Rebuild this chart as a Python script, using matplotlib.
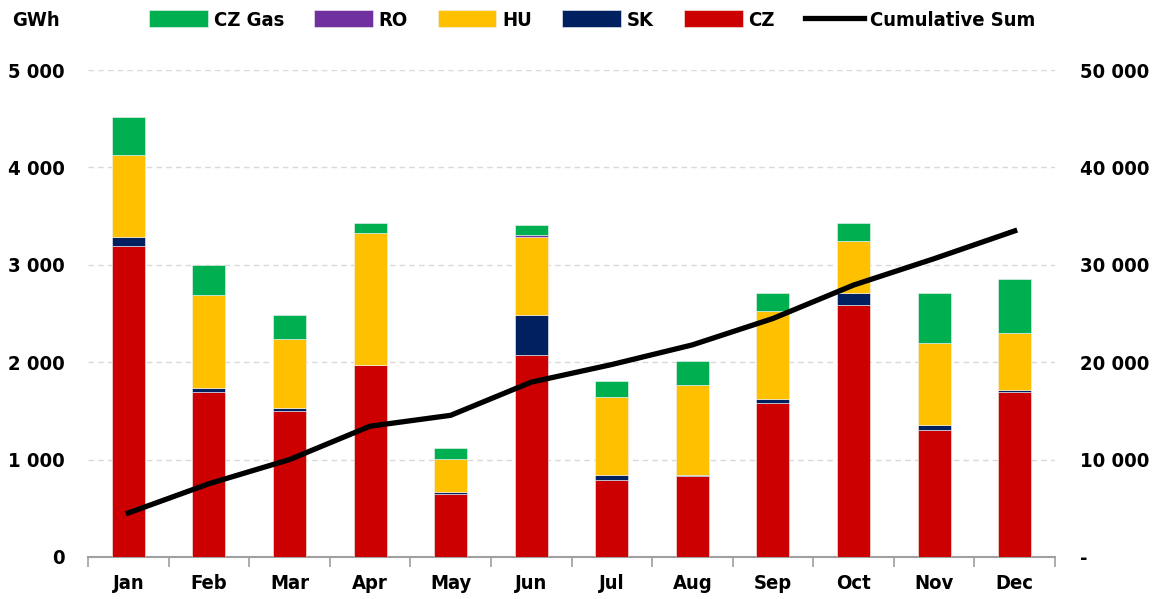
import numpy as np
import matplotlib
matplotlib.use("Agg")
import matplotlib.pyplot as plt
from matplotlib.ticker import FuncFormatter, MultipleLocator

# monthly flows, GWh
MONTHS = ["Jan", "Feb", "Mar", "Apr", "May", "Jun",
          "Jul", "Aug", "Sep", "Oct", "Nov", "Dec"]
CZ     = [3190, 1690, 1500, 1970, 650, 2077, 786, 827, 1585, 2590, 1300, 1690]
SK     = [100, 40, 25, 0, 15, 410, 60, 20, 40, 125, 60, 20]
HU     = [840, 965, 710, 1360, 340, 800, 796, 920, 900, 530, 840, 590]
RO     = [0, 0, 0, 0, 0, 20, 0, 0, 0, 0, 0, 0]
CZ_GAS = [390, 305, 245, 100, 110, 100, 167, 250, 185, 185, 510, 555]

COLORS = {"CZ": "#CC0000", "SK": "#002060", "HU": "#FFC000",
          "RO": "#7030A0", "CZ Gas": "#00B050"}

plt.rcParams["font.family"] = ["DejaVu Sans"]
plt.rcParams["font.stretch"] = "condensed"
plt.rcParams["font.weight"] = "bold"
FS = 14.5

x = np.arange(len(MONTHS))
series = [("CZ", CZ), ("SK", SK), ("HU", HU), ("RO", RO), ("CZ Gas", CZ_GAS)]
total = np.sum([np.array(v) for _, v in series], axis=0)
cum = np.cumsum(total)

fig = plt.figure(figsize=(11.53, 5.99), dpi=100)
ax = fig.add_axes([88 / 1153, 1 - 557 / 599, (1055 - 88) / 1153, (557 - 70) / 599])
ax2 = ax.twinx()

bottom = np.zeros(len(MONTHS))
handles = {}
for name, vals in series:
    b = ax.bar(x, vals, 0.41, bottom=bottom, color=COLORS[name],
               edgecolor="#F4F4F4", linewidth=0.4, zorder=3)
    handles[name] = b
    bottom += np.array(vals)

ln, = ax2.plot(x, cum, color="black", lw=3.8, zorder=4)
ax.set_zorder(1)
ax2.set_zorder(2)
ax2.patch.set_visible(False)

ax.set_xlim(-0.5, len(MONTHS) - 0.5)
ax.set_ylim(0, 5000)
ax2.set_ylim(0, 50000)
ax.yaxis.set_major_locator(MultipleLocator(1000))
ax2.yaxis.set_major_locator(MultipleLocator(10000))

def thou(v, _):
    return f"{int(v):,}".replace(",", " ")

def thou_r(v, _):
    return "-" if v == 0 else f"{int(v):,}".replace(",", " ")

ax.yaxis.set_major_formatter(FuncFormatter(thou))
ax2.yaxis.set_major_formatter(FuncFormatter(thou_r))
ax.grid(axis="y", color="#D9D9D9", ls=(0, (4, 3)), lw=1, zorder=0)

for a in (ax, ax2):
    for s in ("top", "left", "right"):
        a.spines[s].set_visible(False)
    a.spines["bottom"].set_color("#A0A0A0")
    a.spines["bottom"].set_linewidth(1.5)
ax2.spines["bottom"].set_visible(False)

ax.set_xticks(x)
ax.set_xticklabels(MONTHS)
ax.set_xticks(np.arange(-0.5, len(MONTHS)), minor=True)
ax.tick_params(axis="x", which="major", length=0, pad=12, labelsize=FS)
ax.tick_params(axis="x", which="minor", length=7, color="#A0A0A0", width=1.2)
ax.tick_params(axis="y", length=0, labelsize=FS, pad=17)
ax2.tick_params(axis="y", length=0, labelsize=FS, pad=18)

fig.text(12 / 1153, 1 - 20 / 599, "GWh", fontsize=FS, va="center", ha="left")

order = ["CZ Gas", "RO", "HU", "SK", "CZ"]
leg = fig.legend([handles[n] for n in order] + [ln], order + ["Cumulative Sum"],
                 loc="center", bbox_to_anchor=(592 / 1153, 1 - 20 / 599),
                 ncol=6, frameon=False, fontsize=FS, handlelength=2.9,
                 handleheight=0.9, handletextpad=0.3, columnspacing=1.5)

fig.savefig("out.png", dpi=100)
